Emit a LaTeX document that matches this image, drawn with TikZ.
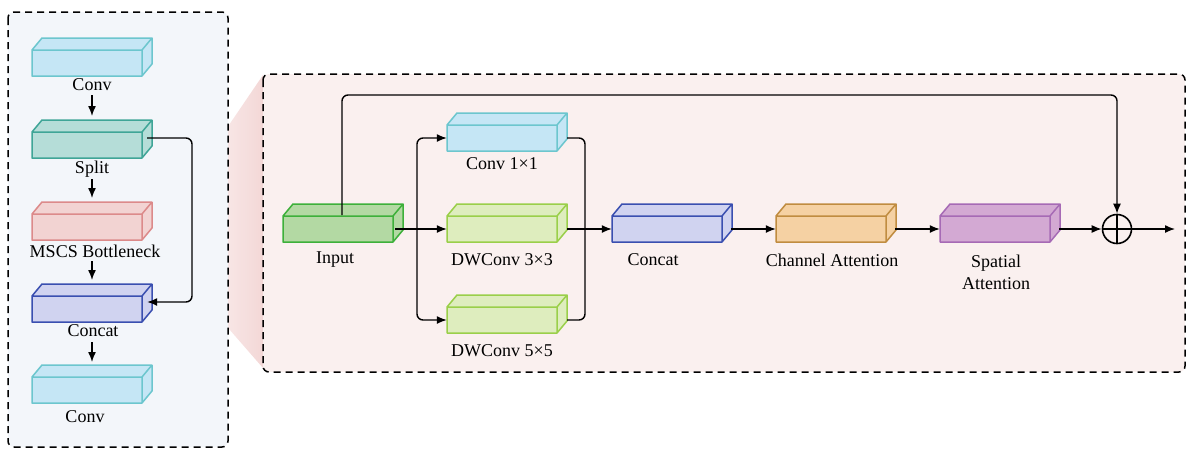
\documentclass[tikz,border=0pt]{standalone}
\usepackage{fontspec}
\setmainfont{Liberation Serif}
\usetikzlibrary{arrows.meta,calc}
\definecolor{cyF}{HTML}{C5E6F5}\definecolor{cyD}{HTML}{6CC6CE}
\definecolor{tlF}{HTML}{B5DDD8}\definecolor{tlD}{HTML}{3FA597}
\definecolor{pkF}{HTML}{F2D3D2}\definecolor{pkD}{HTML}{DC8A8A}
\definecolor{blF}{HTML}{D0D3F0}\definecolor{blD}{HTML}{3A4FB0}
\definecolor{gnF}{HTML}{B3D9A3}\definecolor{gnD}{HTML}{3DB03A}
\definecolor{lgF}{HTML}{DEEDBE}\definecolor{lgD}{HTML}{9ACF4A}
\definecolor{orF}{HTML}{F5D1A3}\definecolor{orD}{HTML}{C08C40}
\definecolor{puF}{HTML}{D3A9D3}\definecolor{puD}{HTML}{A66AB5}
\definecolor{panelL}{HTML}{F3F6FA}\definecolor{panelR}{HTML}{FAF0EF}
\newcommand{\mycub}[5]{%
  \fill[#4] (#2,#3) -- ++(10,-12) -- ++(110,0) -- ++(0,26) -- ++(-10,12) -- ++(-110,0) -- cycle;
  \draw[#5,line width=1.5pt,line join=round] (#2,#3) rectangle ++(110,26)
    (#2,#3) -- ++(10,-12) -- ++(110,0) -- ++(0,26) -- ++(-10,12)
    (#2+110,#3) -- ++(10,-12);
  \node[inner sep=0,minimum width=110pt,minimum height=26pt] (#1) at (#2+55,#3+13) {};}
\tikzset{lbl/.style={font=\fontsize{18}{20}\selectfont,inner sep=0},
  arr/.style={-{Latex[length=10pt,width=8pt]},line width=1.4pt,rounded corners=6pt},
  ln/.style={line width=1.4pt,rounded corners=6pt}}
\begin{document}
\begin{tikzpicture}[x=1pt,y=-1pt]
\useasboundingbox (0,0) rectangle (1196,458);
% funnel
\shade[left color=pkF!30!white,right color=pkF,opacity=0.9] (195,175) -- (263,75) -- (263,368) -- (195,290) -- cycle;
\fill[panelL,rounded corners=6pt] (8,12) rectangle (228,447);
\draw[line width=1.5pt,dash pattern=on 7pt off 5pt,rounded corners=6pt] (8,12) rectangle (228,447);
\fill[panelR,rounded corners=6pt] (263,74) rectangle (1185,372);
\draw[line width=1.5pt,dash pattern=on 7pt off 5pt,rounded corners=6pt] (263,74) rectangle (1185,372);
% left
\mycub{c1}{32}{50}{cyF}{cyD}
\mycub{sp}{32}{132}{tlF}{tlD}
\mycub{ms}{32}{214}{pkF}{pkD}
\mycub{cc}{32}{296}{blF}{blD}
\mycub{c2}{32}{377}{cyF}{cyD}
\node[lbl] (t1) at (92,85) {Conv};
\node[lbl] (t2) at (92,169) {Split};
\node[lbl] (t3) at (95,251) {MSCS Bottleneck};
\node[lbl] (t4) at (93,331) {Concat};
\node[lbl] (t5) at (85,417) {Conv};
\draw[arr] (92,95) -- (92,116);
\draw[arr] (92,179) -- (92,198);
\draw[arr] (92,261) -- (92,280);
\draw[arr] (92,342) -- (92,362);
\coordinate (sk) at (192,138);
\draw[arr] ($(sp.east)+(5,-7)$) -- (sk) -- (192,302) -- ($(cc.east)+(5,-7)$);
% right
\mycub{in}{283}{216}{gnF}{gnD}
\mycub{k1}{447}{125}{cyF}{cyD}
\mycub{k3}{447}{216}{lgF}{lgD}
\mycub{k5}{447}{307}{lgF}{lgD}
\mycub{co}{612}{216}{blF}{blD}
\mycub{ca}{776}{216}{orF}{orD}
\mycub{sa}{940}{216}{puF}{puD}
\node[lbl] at (335,260) {Input};
\node[lbl] at (502,164) {Conv 1×1};
\node[lbl] at (502,260) {DWConv 3×3};
\node[lbl] at (502,351) {DWConv 5×5};
\node[lbl] at (653,260) {Concat};
\node[lbl] at (832,260) {Channel Attention};
\node[lbl,align=center] at (996,272) {Spatial\\[2pt]Attention};
\node[circle,draw,line width=1.6pt,minimum size=29pt,inner sep=0] (op) at (1117,229) {};
\draw[line width=1.6pt] (op.north) -- (op.south) (op.west) -- (op.east);
\coordinate (out) at (1175,229);
\draw[arr] (342,215) -- (342,95) -- (1117,95) -- (op.north);
\draw[arr] (395,229) -- (k3.west);
\draw[arr] (417,229) -- (417,138) -- (k1.west);
\draw[arr] (417,229) -- (417,320) -- (k5.west);
\draw[ln] (567,138) -- (585,138) -- (585,320) -- (567,320);
\draw[arr] (567,229) -- (co.west);
\draw[arr] (731,229) -- (ca.west);
\draw[arr] (895,229) -- (sa.west);
\draw[arr] (1059,229) -- (op.west);
\draw[arr] (op.east) -- (out);
\end{tikzpicture}
\end{document}
